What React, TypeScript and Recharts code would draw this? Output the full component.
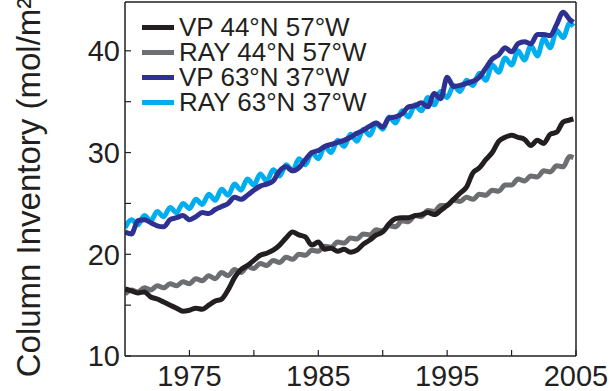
import React from 'react';
import { LineChart, Line, XAxis, YAxis, Legend } from 'recharts';

// Half-year sample times (last sample at the end of the record)
const years = [
  1970, 1970.5, 1971, 1971.5, 1972, 1972.5, 1973, 1973.5, 1974, 1974.5,
  1975, 1975.5, 1976, 1976.5, 1977, 1977.5, 1978, 1978.5, 1979, 1979.5,
  1980, 1980.5, 1981, 1981.5, 1982, 1982.5, 1983, 1983.5, 1984, 1984.5,
  1985, 1985.5, 1986, 1986.5, 1987, 1987.5, 1988, 1988.5, 1989, 1989.5,
  1990, 1990.5, 1991, 1991.5, 1992, 1992.5, 1993, 1993.5, 1994, 1994.5,
  1995, 1995.5, 1996, 1996.5, 1997, 1997.5, 1998, 1998.5, 1999, 1999.5,
  2000, 2000.5, 2001, 2001.5, 2002, 2002.5, 2003, 2003.5, 2004, 2004.5,
  2004.8,
];

// Column inventory, mol/m²
const vp44 = [
  16.6, 16.4, 16.2, 16.3, 15.8, 15.6, 15.3, 15.0, 14.7, 14.4,
  14.5, 14.7, 14.6, 15.0, 15.4, 15.6, 16.5, 17.7, 18.5, 18.9,
  19.4, 19.9, 20.1, 20.4, 20.9, 21.6, 22.2, 21.9, 21.7, 20.9,
  21.2, 20.5, 20.6, 20.3, 20.5, 20.2, 20.4, 21.0, 21.4, 21.9,
  22.2, 23.0, 23.5, 23.6, 23.6, 23.8, 23.9, 24.1, 23.9, 24.3,
  24.8, 25.4, 26.0, 26.6, 28.0, 28.5, 29.3, 30.0, 31.1, 31.5,
  31.7, 31.5, 31.3, 30.7, 31.2, 30.9, 31.8, 32.0, 33.0, 33.2,
  33.3,
];

const ray44 = [
  16.1, 16.5, 16.3, 16.7, 16.5, 16.9, 16.7, 17.1, 16.9, 17.3,
  17.1, 17.6, 17.4, 17.9, 17.6, 18.2, 17.9, 18.5, 18.2, 18.8,
  18.6, 19.1, 18.9, 19.4, 19.2, 19.7, 19.5, 20.0, 19.9, 20.4,
  20.3, 20.8, 20.7, 21.2, 21.1, 21.6, 21.5, 22.0, 21.9, 22.4,
  22.3, 22.8, 22.7, 23.3, 23.2, 23.8, 23.7, 24.3, 24.2, 24.8,
  24.8, 25.3, 25.2, 25.6, 25.4, 25.9, 25.8, 26.3, 26.2, 26.8,
  26.8, 27.4, 27.2, 27.7, 27.6, 28.2, 28.1, 28.7, 28.6, 29.6,
  29.5,
];

const vp63 = [
  22.2, 22.0, 23.3, 23.4, 23.1, 22.8, 22.7, 23.4, 23.6, 23.8,
  23.4, 23.7, 24.1, 24.0, 24.4, 24.7, 25.0, 25.6, 25.4, 25.8,
  26.3, 26.7, 26.9, 27.2, 28.2, 28.6, 28.2, 28.5, 29.3, 30.0,
  30.2, 30.6, 30.8, 31.0, 31.2, 31.5, 31.9, 32.2, 32.6, 32.9,
  32.5, 33.4, 33.5, 33.8, 34.5, 34.6, 34.9, 34.5, 35.8, 35.3,
  37.4, 36.5, 36.6, 36.8, 37.0, 37.4, 38.3, 39.2, 39.6, 40.3,
  39.9, 40.7, 40.9, 40.7, 41.6, 41.6, 41.5, 42.6, 43.8, 43.1,
  42.8,
];

const ray63 = [
  22.6, 23.4, 22.9, 23.8, 23.3, 24.2, 23.7, 24.6, 24.1, 25.0,
  24.5, 25.4, 24.9, 25.9, 25.3, 26.4, 25.8, 26.9, 26.3, 27.4,
  26.8, 27.9, 27.2, 28.3, 27.7, 28.8, 28.2, 29.4, 28.8, 30.0,
  29.4, 30.6, 30.0, 31.2, 30.6, 31.8, 31.1, 32.3, 31.7, 32.9,
  32.3, 33.5, 32.9, 34.1, 33.5, 34.7, 34.1, 35.4, 34.7, 36.0,
  35.4, 36.6, 36.0, 37.1, 36.6, 37.8, 37.1, 38.6, 37.9, 39.3,
  38.6, 40.0, 39.1, 40.5, 39.5, 41.2, 40.3, 42.0, 41.3, 42.7,
  42.4,
];

const xTicks = [1975, 1980, 1985, 1990, 1995, 2000, 2005];
const xLabels = [1975, 1985, 1995, 2005];
const yTicks = [10, 15, 20, 25, 30, 35, 40];
const yLabels = [10, 20, 30, 40];

const series = [
  { key: 'vp44', name: 'VP 44°N 57°W', color: '#231f20' },
  { key: 'ray44', name: 'RAY 44°N 57°W', color: '#6d6e71' },
  { key: 'vp63', name: 'VP 63°N 37°W', color: '#2e3192' },
  { key: 'ray63', name: 'RAY 63°N 37°W', color: '#00aeef' },
];

const data = years.map((year, i) => ({
  year,
  vp44: vp44[i],
  ray44: ray44[i],
  vp63: vp63[i],
  ray63: ray63[i],
}));

const FONT = '"Liberation Sans", Arial, Helvetica, sans-serif';
const INK = '#231f20';

const tickStyle = { fontFamily: FONT, fontSize: 29, fill: INK };

const LegendBox = () => (
  <div style={{ fontFamily: FONT, fontSize: 26, color: INK, lineHeight: '25px' }}>
    {series.map((s) => (
      <div key={s.key} style={{ display: 'flex', alignItems: 'center', height: 25, whiteSpace: 'nowrap' }}>
        <span style={{ display: 'inline-block', width: 32, height: 5, background: s.color, marginRight: 5 }} />
        <span style={{ lineHeight: '25px' }}>{s.name}</span>
      </div>
    ))}
  </div>
);

const YLabel = (props: any) => {
  const vb = props.viewBox || {};
  const cx = vb.x + 40;
  const cy = vb.y + vb.height / 2 + 3;
  return (
    <text
      x={cx}
      y={cy}
      transform={`rotate(-90 ${cx} ${cy})`}
      textAnchor="middle"
      style={{ fontFamily: FONT, fontSize: 33, fill: INK }}
    >
      Column Inventory (mol/m²)
    </text>
  );
};

export default function App() {
  return (
    <div style={{ position: 'absolute', left: 0, top: 0 }}>
      <LineChart
        width={610}
        height={391}
        data={data}
        margin={{ top: 0, right: 0, bottom: 0, left: 0 }}
      >
        <XAxis
          dataKey="year"
          type="number"
          domain={[1970, 2005]}
          ticks={xTicks}
          interval={0}
          allowDataOverflow
          height={35}
          tickSize={-6}
          tickMargin={15}
          tickFormatter={(v: number) => (xLabels.includes(v) ? String(v) : '')}
          tick={tickStyle}
          axisLine={{ stroke: INK, strokeWidth: 1.5 }}
          tickLine={{ stroke: INK, strokeWidth: 1.2 }}
        />
        <XAxis
          xAxisId="top"
          orientation="top"
          dataKey="year"
          type="number"
          domain={[1970, 2005]}
          ticks={xTicks}
          interval={0}
          allowDataOverflow
          height={2}
          tickSize={-6}
          tick={false}
          axisLine={{ stroke: INK, strokeWidth: 1.5 }}
          tickLine={{ stroke: INK, strokeWidth: 1.2 }}
        />
        <YAxis
          type="number"
          domain={[10, 44.8]}
          ticks={yTicks}
          interval={0}
          allowDataOverflow
          width={125}
          tickSize={-6}
          tickMargin={11}
          tickFormatter={(v: number) => (yLabels.includes(v) ? String(v) : '')}
          tick={tickStyle}
          axisLine={{ stroke: INK, strokeWidth: 1.5 }}
          tickLine={{ stroke: INK, strokeWidth: 1.2 }}
          label={<YLabel />}
        />
        <YAxis
          yAxisId="right"
          orientation="right"
          type="number"
          domain={[10, 44.8]}
          ticks={yTicks}
          interval={0}
          allowDataOverflow
          width={34}
          tickSize={-6}
          tick={false}
          axisLine={{ stroke: INK, strokeWidth: 1.5 }}
          tickLine={{ stroke: INK, strokeWidth: 1.2 }}
        />
        <Legend
          layout="vertical"
          verticalAlign="middle"
          align="center"
          wrapperStyle={{ top: 15, left: 142, width: 'auto' }}
          content={() => <LegendBox />}
        />
        <Line type="monotone" dataKey="ray44" stroke="#6d6e71" strokeWidth={5} dot={false} isAnimationActive={false} />
        <Line type="monotone" dataKey="vp44" stroke="#231f20" strokeWidth={5} dot={false} isAnimationActive={false} />
        <Line type="monotone" dataKey="ray63" stroke="#00aeef" strokeWidth={5} dot={false} isAnimationActive={false} />
        <Line type="monotone" dataKey="vp63" stroke="#2e3192" strokeWidth={5} dot={false} isAnimationActive={false} />
      </LineChart>
    </div>
  );
}
